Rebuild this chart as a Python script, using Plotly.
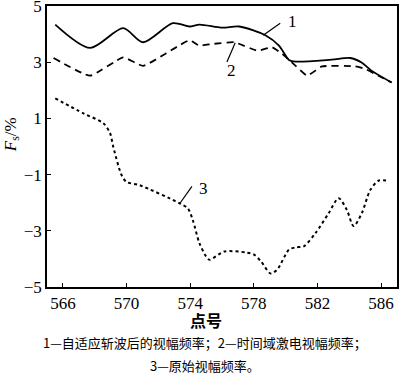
import plotly.graph_objects as go

# Curve 1: 自适应斩波后的视幅频率 (solid)
x1 = [565.52, 567.71, 569.79, 571.04, 572.91, 573.96, 574.58, 576.02, 577.08, 578.75,
      579.58, 580.21, 580.63, 582.89, 584.06, 584.77, 585.39, 586.66]
y1 = [4.34, 3.51, 4.21, 3.71, 4.39, 4.27, 4.34, 4.23, 4.27, 3.95,
      3.59, 3.08, 3.02, 3.09, 3.15, 2.99, 2.70, 2.28]

# Curve 2: 时间域激电视幅频率 (dashed)
x2 = [565.41, 567.71, 569.79, 571.04, 573.96, 574.58, 575.41, 576.77, 578.23, 579.16,
      579.79, 580.63, 581.35, 582.29, 584.38, 585.0, 585.83, 586.66]
y2 = [3.15, 2.52, 3.17, 2.87, 3.78, 3.59, 3.65, 3.71, 3.41, 3.53,
      3.29, 2.87, 2.52, 2.85, 2.85, 2.76, 2.52, 2.28]

# Curve 3: 原始视幅频率 (dotted)
x3 = [565.52, 567.29, 568.54, 568.96, 569.16, 569.69, 570.0, 570.83, 573.33, 573.85,
      574.16, 574.58, 575.0, 575.21, 576.14, 577.5, 578.02, 578.44, 579.06, 579.48,
      580.21, 580.63, 581.14, 581.88, 582.71, 583.33, 583.85, 584.27, 584.79, 585.31,
      585.83, 586.46]
y3 = [1.71, 1.18, 0.83, 0.48, 0.0, -1.02, -1.26, -1.38, -2.02, -2.2,
      -2.61, -3.44, -3.91, -4.03, -3.74, -3.77, -3.85, -4.08, -4.52, -4.37,
      -3.67, -3.59, -3.55, -3.08, -2.37, -1.84, -2.26, -2.83, -2.37, -1.56,
      -1.22, -1.22]

x_ticks = [566, 570, 574, 578, 582, 586]
x_ticklabels = ["566", "570", "574", "578", "582", "586"]
y_ticks = [5, 3, 1, -1, -3, -5]
y_ticklabels = ["5", "3", "1", "\u22121", "\u22123", "\u22125"]

x_title = "<b>点号</b>"
y_title = "<i>F</i><sub>s</sub>/%"
caption1 = "1—自适应斩波后的视幅频率；2—时间域激电视幅频率；"
caption2 = "3—原始视幅频率。"

# Curve labels and leader lines
label_text = ["1", "2", "3"]
label_pos = [(580.05, 4.45), (576.2, 2.72), (574.42, -1.48)]
leader = [((578.59, 3.96), (579.66, 4.39)),
          ((576.83, 3.69), (576.31, 3.01)),
          ((573.37, -2.01), (574.11, -1.42))]

SERIF = "Liberation Serif"
CJK = "Noto Sans CJK SC"

fig = go.Figure()
fig.add_trace(go.Scatter(x=x1, y=y1, mode="lines",
                         line=dict(color="black", width=1.8, shape="spline", smoothing=0.8)))
fig.add_trace(go.Scatter(x=x2, y=y2, mode="lines",
                         line=dict(color="black", width=1.8, dash="7px,5px", shape="spline", smoothing=0.4)))
fig.add_trace(go.Scatter(x=x3, y=y3, mode="lines",
                         line=dict(color="black", width=2, dash="dot", shape="spline", smoothing=0.8)))

for t, (lx, ly) in zip(label_text, label_pos):
    fig.add_annotation(x=lx, y=ly, text=t, showarrow=False, xanchor="left",
                       font=dict(family=SERIF, size=17, color="black"))
for (a, b) in leader:
    fig.add_shape(type="line", x0=a[0], y0=a[1], x1=b[0], y1=b[1],
                  line=dict(color="black", width=1.2))

# axis titles and caption
fig.add_annotation(x=0.455, y=-0.117, xref="paper", yref="paper", text=x_title, showarrow=False,
                   xanchor="center", yanchor="middle", font=dict(family=CJK, size=16, color="black"))
fig.add_annotation(x=-0.10, y=0.54, xref="paper", yref="paper", text=y_title, showarrow=False,
                   textangle=-90, xanchor="center", yanchor="middle",
                   font=dict(family=SERIF, size=17, color="black"))
fig.add_annotation(x=0.451, y=-0.196, xref="paper", yref="paper", text=caption1, showarrow=False,
                   xanchor="center", yanchor="middle", font=dict(family=CJK, size=13, color="black"))
fig.add_annotation(x=0.451, y=-0.278, xref="paper", yref="paper", text=caption2, showarrow=False,
                   xanchor="center", yanchor="middle", font=dict(family=CJK, size=13, color="black"))

fig.update_layout(
    width=400, height=377,
    margin=dict(l=47, r=3, t=6, b=90, autoexpand=False),
    paper_bgcolor="white", plot_bgcolor="white",
    showlegend=False,
    font=dict(family=SERIF, color="black", size=17),
)
fig.update_xaxes(range=[565, 587], tickvals=x_ticks, ticktext=x_ticklabels, ticks="inside", ticklen=4,
                 tickcolor="black", showline=True, linecolor="black", linewidth=1.5, mirror=True,
                 showgrid=False, zeroline=False, automargin=False, ticklabeloverflow="allow",
                 tickfont=dict(family=SERIF, size=17))
fig.update_yaxes(range=[-5, 5], tickvals=y_ticks, ticktext=y_ticklabels, ticks="inside", ticklen=4,
                 tickcolor="black", showline=True, linecolor="black", linewidth=1.5, mirror=True,
                 showgrid=False, zeroline=False, automargin=False, ticklabeloverflow="allow",
                 tickfont=dict(family=SERIF, size=17))

fig.write_html("out.html", config={"displayModeBar": False},
               post_script="document.body.style.margin='0';document.body.style.overflow='hidden';")
